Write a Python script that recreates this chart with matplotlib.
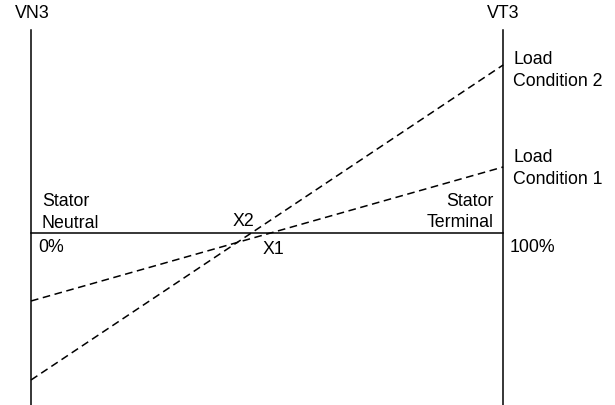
import matplotlib
matplotlib.use("Agg")
import matplotlib.pyplot as plt

plt.rcParams['font.family'] = ['Liberation Sans', 'DejaVu Sans']

# position along the stator winding (%) and voltage at each end
position = [0, 100]
load_1 = [-0.68, 0.66]
load_2 = [-1.47, 1.68]

axis_top = 2.03
axis_bottom = -1.75

fig = plt.figure(figsize=(6.15, 4.05), dpi=100)
ax = fig.add_axes([0, 0, 1, 1])
ax.set_xlim(-6.57, 123.7)
ax.set_ylim(-1.72, 2.33)
ax.axis('off')

# the two voltage axes and the zero line
ax.plot([position[0], position[0]], [axis_bottom, axis_top], color='black', lw=1.1)
ax.plot([position[1], position[1]], [axis_bottom, axis_top], color='black', lw=1.1)
ax.plot(position, [0, 0], color='black', lw=1.1)

# load condition lines
ax.plot(position, load_1, color='black', lw=1.1, linestyle=(0, (5, 3)))
ax.plot(position, load_2, color='black', lw=1.1, linestyle=(0, (5, 3)))

fs = 12.8
ls = 1.35
ax.text(0.2, 2.19, 'VN3', ha='center', va='center', fontsize=fs)
ax.text(100, 2.20, 'VT3', ha='center', va='center', fontsize=fs)
ax.text(102.1, 1.625, 'Load\nCondition 2', ha='left', va='center', fontsize=fs, linespacing=ls)
ax.text(102.1, 0.645, 'Load\nCondition 1', ha='left', va='center', fontsize=fs, linespacing=ls)
ax.text(101.3, -0.14, '100%', ha='left', va='center', fontsize=fs)
ax.text(1.5, -0.14, '0%', ha='left', va='center', fontsize=fs)
ax.text(2.3, 0.205, 'Stator\nNeutral', ha='left', va='center', fontsize=fs, linespacing=ls)
ax.text(97.9, 0.21, 'Stator\nTerminal', ha='right', va='center', multialignment='right',
        fontsize=fs, linespacing=ls)
ax.text(44.9, 0.11, 'X2', ha='center', va='center', fontsize=fs)
ax.text(51.3, -0.17, 'X1', ha='center', va='center', fontsize=fs)

fig.savefig('out.png', dpi=100)
